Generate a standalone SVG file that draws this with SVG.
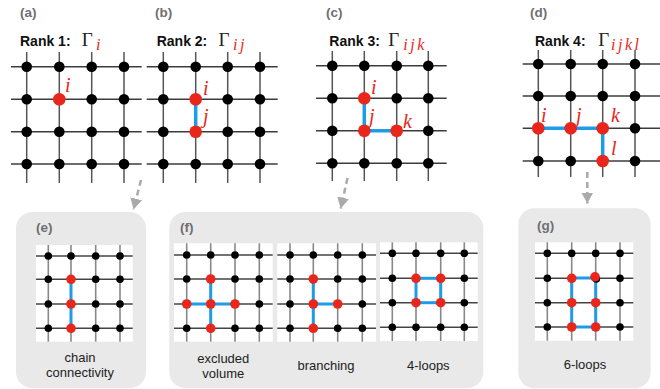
<svg xmlns="http://www.w3.org/2000/svg" width="660" height="389" viewBox="0 0 660 389">
<style>
.lab{font-family:"Liberation Sans",Arial,sans-serif;font-weight:bold;font-size:13.5px;fill:#707070}
.rank{font-family:"Liberation Sans",Arial,sans-serif;font-weight:bold;font-size:14px;fill:#111}
.gam{font-family:"Liberation Serif","DejaVu Serif",serif;font-size:19px;fill:#222}
.sub{font-family:"Liberation Serif","DejaVu Serif",serif;font-style:italic;font-size:16px;fill:#e8261b;letter-spacing:2.5px}
.nl{font-family:"Liberation Serif","DejaVu Serif",serif;font-style:italic;font-size:20px;fill:#e8261b}
.cap{font-family:"Liberation Sans",Arial,sans-serif;font-size:13px;fill:#222;text-anchor:middle}
.gh{stroke:#3c3c3c;stroke-width:1.5}
.gv{stroke:#555;stroke-width:1.5}
.sh{stroke:#444;stroke-width:1.4}
.sv{stroke:#888;stroke-width:1.6}
.bd{fill:#000}
.rd{fill:#e8261b}
.bl{stroke:#1e9be9;stroke-width:3.5;fill:none}
.sbl{stroke:#1e9be9;stroke-width:3;fill:none}
.box{fill:#e9e9e9}
.wh{fill:#fff}
.arr{stroke:#aaaaaa;stroke-width:2.5;stroke-dasharray:6 4;fill:none}
</style>
<defs>
<marker id="ah" markerUnits="userSpaceOnUse" markerWidth="14" markerHeight="14" refX="11" refY="6" orient="auto">
<path d="M0,0 L11,6 L0,12 Z" fill="#aaaaaa"/>
</marker>
</defs>

<g id="panel-a">
<text class="lab" x="20" y="17">(a)</text>
<text class="rank" x="20" y="45.5">Rank 1:</text>
<text class="gam" x="81.7" y="45.5">Γ</text>
<text class="sub" x="96" y="50">i</text>
<g class="gh">
<line x1="11" y1="66.7" x2="141.7" y2="66.7"/><line x1="11" y1="99.3" x2="141.7" y2="99.3"/><line x1="11" y1="131.7" x2="141.7" y2="131.7"/><line x1="11" y1="164" x2="141.7" y2="164"/>
</g>
<g class="gv">
<line x1="26.7" y1="52" x2="26.7" y2="183"/><line x1="59.3" y1="52" x2="59.3" y2="183"/><line x1="91.7" y1="52" x2="91.7" y2="183"/><line x1="124" y1="52" x2="124" y2="183"/>
</g>
<g class="bd">
<circle cx="26.7" cy="66.7" r="5.3"/><circle cx="59.3" cy="66.7" r="5.3"/><circle cx="91.7" cy="66.7" r="5.3"/><circle cx="124" cy="66.7" r="5.3"/>
<circle cx="26.7" cy="99.3" r="5.3"/><circle cx="91.7" cy="99.3" r="5.3"/><circle cx="124" cy="99.3" r="5.3"/>
<circle cx="26.7" cy="131.7" r="5.3"/><circle cx="59.3" cy="131.7" r="5.3"/><circle cx="91.7" cy="131.7" r="5.3"/><circle cx="124" cy="131.7" r="5.3"/>
<circle cx="26.7" cy="164" r="5.3"/><circle cx="59.3" cy="164" r="5.3"/><circle cx="91.7" cy="164" r="5.3"/><circle cx="124" cy="164" r="5.3"/>
</g>
<circle class="rd" cx="59.3" cy="99.3" r="6.3"/>
<text class="nl" x="65" y="92">i</text>
</g>

<g id="panel-b">
<text class="lab" x="155" y="17">(b)</text>
<text class="rank" x="156.7" y="45.5">Rank 2:</text>
<text class="gam" x="218.4" y="45.5">Γ</text>
<text class="sub" x="233" y="50">ij</text>
<g class="gh">
<line x1="146.7" y1="66.7" x2="277.7" y2="66.7"/><line x1="146.7" y1="99.3" x2="277.7" y2="99.3"/><line x1="146.7" y1="131.7" x2="277.7" y2="131.7"/><line x1="146.7" y1="164" x2="277.7" y2="164"/>
</g>
<g class="gv">
<line x1="163.3" y1="52" x2="163.3" y2="183"/><line x1="195.7" y1="52" x2="195.7" y2="183"/><line x1="227.7" y1="52" x2="227.7" y2="183"/><line x1="260" y1="52" x2="260" y2="183"/>
</g>
<line class="bl" x1="195.7" y1="99.3" x2="195.7" y2="131.7"/>
<g class="bd">
<circle cx="163.3" cy="66.7" r="5.3"/><circle cx="195.7" cy="66.7" r="5.3"/><circle cx="227.7" cy="66.7" r="5.3"/><circle cx="260" cy="66.7" r="5.3"/>
<circle cx="163.3" cy="99.3" r="5.3"/><circle cx="227.7" cy="99.3" r="5.3"/><circle cx="260" cy="99.3" r="5.3"/>
<circle cx="163.3" cy="131.7" r="5.3"/><circle cx="227.7" cy="131.7" r="5.3"/><circle cx="260" cy="131.7" r="5.3"/>
<circle cx="163.3" cy="164" r="5.3"/><circle cx="195.7" cy="164" r="5.3"/><circle cx="227.7" cy="164" r="5.3"/><circle cx="260" cy="164" r="5.3"/>
</g>
<circle class="rd" cx="195.7" cy="99.3" r="6.3"/><circle class="rd" cx="195.7" cy="131.7" r="6.3"/>
<text class="nl" x="203" y="95">i</text>
<text class="nl" x="203" y="123">j</text>
</g>

<g id="panel-c">
<text class="lab" x="326" y="17">(c)</text>
<text class="rank" x="329.3" y="45.5">Rank 3:</text>
<text class="gam" x="388.3" y="45.5">Γ</text>
<text class="sub" x="403.3" y="50">ijk</text>
<g class="gh">
<line x1="316" y1="65.7" x2="446.7" y2="65.7"/><line x1="316" y1="98.3" x2="446.7" y2="98.3"/><line x1="316" y1="130.7" x2="446.7" y2="130.7"/><line x1="316" y1="163.3" x2="446.7" y2="163.3"/>
</g>
<g class="gv">
<line x1="332.3" y1="51" x2="332.3" y2="181"/><line x1="364.3" y1="51" x2="364.3" y2="181"/><line x1="396.7" y1="51" x2="396.7" y2="181"/><line x1="428.3" y1="51" x2="428.3" y2="181"/>
</g>
<path class="bl" d="M364.3,98.3 L364.3,130.7 L396.7,130.7"/>
<g class="bd">
<circle cx="332.3" cy="65.7" r="5.3"/><circle cx="364.3" cy="65.7" r="5.3"/><circle cx="396.7" cy="65.7" r="5.3"/><circle cx="428.3" cy="65.7" r="5.3"/>
<circle cx="332.3" cy="98.3" r="5.3"/><circle cx="396.7" cy="98.3" r="5.3"/><circle cx="428.3" cy="98.3" r="5.3"/>
<circle cx="332.3" cy="130.7" r="5.3"/><circle cx="428.3" cy="130.7" r="5.3"/>
<circle cx="332.3" cy="163.3" r="5.3"/><circle cx="364.3" cy="163.3" r="5.3"/><circle cx="396.7" cy="163.3" r="5.3"/><circle cx="428.3" cy="163.3" r="5.3"/>
</g>
<circle class="rd" cx="364.3" cy="98.3" r="6.3"/><circle class="rd" cx="364.3" cy="130.7" r="6.3"/><circle class="rd" cx="396.7" cy="130.7" r="6.3"/>
<text class="nl" x="371" y="94">i</text>
<text class="nl" x="369" y="123">j</text>
<text class="nl" x="403" y="128">k</text>
</g>

<g id="panel-d">
<text class="lab" x="530" y="17">(d)</text>
<text class="rank" x="535" y="45.5">Rank 4:</text>
<text class="gam" x="598.3" y="45.5">Γ</text>
<text class="sub" x="611" y="50">ijkl</text>
<g class="gh">
<line x1="522.7" y1="64" x2="660" y2="64"/><line x1="522.7" y1="96" x2="660" y2="96"/><line x1="522.7" y1="128.3" x2="660" y2="128.3"/><line x1="522.7" y1="161" x2="660" y2="161"/>
</g>
<g class="gv">
<line x1="538.3" y1="50" x2="538.3" y2="177"/><line x1="570.7" y1="50" x2="570.7" y2="177"/><line x1="602.7" y1="50" x2="602.7" y2="177"/><line x1="635" y1="50" x2="635" y2="177"/>
</g>
<path class="bl" d="M538.3,128.3 L602.7,128.3 L602.7,161"/>
<g class="bd">
<circle cx="538.3" cy="64" r="5.3"/><circle cx="570.7" cy="64" r="5.3"/><circle cx="602.7" cy="64" r="5.3"/><circle cx="635" cy="64" r="5.3"/>
<circle cx="538.3" cy="96" r="5.3"/><circle cx="570.7" cy="96" r="5.3"/><circle cx="602.7" cy="96" r="5.3"/><circle cx="635" cy="96" r="5.3"/>
<circle cx="635" cy="128.3" r="5.3"/>
<circle cx="538.3" cy="161" r="5.3"/><circle cx="570.7" cy="161" r="5.3"/><circle cx="635" cy="161" r="5.3"/>
</g>
<circle class="rd" cx="538.3" cy="128.3" r="6.3"/><circle class="rd" cx="570.7" cy="128.3" r="6.3"/><circle class="rd" cx="602.7" cy="128.3" r="6.3"/><circle class="rd" cx="602.7" cy="161" r="6.3"/>
<text class="nl" x="541" y="121.7">i</text>
<text class="nl" x="576" y="121.7">j</text>
<text class="nl" x="611" y="121.7">k</text>
<text class="nl" x="611" y="155">l</text>
</g>

<g id="connectors">
<path class="arr" d="M141,180 L133.5,209.5" marker-end="url(#ah)"/>
<path class="arr" d="M347.5,178 L340.7,208.5" marker-end="url(#ah)"/>
<path class="arr" d="M587.3,172 L587.3,203.5" marker-end="url(#ah)"/>
</g>

<g id="panel-e">
<rect class="box" x="16" y="212" width="130" height="176" rx="16"/>
<text class="lab" x="36" y="231.7">(e)</text>
<rect class="wh" x="36" y="245" width="96.7" height="96.7"/>
<g class="sh">
<line x1="36" y1="256" x2="132.7" y2="256"/><line x1="36" y1="279.3" x2="132.7" y2="279.3"/><line x1="36" y1="304" x2="132.7" y2="304"/><line x1="36" y1="328.3" x2="132.7" y2="328.3"/>
</g>
<g class="sv">
<line x1="48.3" y1="245" x2="48.3" y2="341.7"/><line x1="71" y1="245" x2="71" y2="341.7"/><line x1="95.7" y1="245" x2="95.7" y2="341.7"/><line x1="120" y1="245" x2="120" y2="341.7"/>
</g>
<line class="sbl" x1="71" y1="279.3" x2="71" y2="328.3"/>
<g class="bd">
<circle cx="48.3" cy="256" r="3.8"/><circle cx="71" cy="256" r="3.8"/><circle cx="95.7" cy="256" r="3.8"/><circle cx="120" cy="256" r="3.8"/>
<circle cx="48.3" cy="279.3" r="3.8"/><circle cx="95.7" cy="279.3" r="3.8"/><circle cx="120" cy="279.3" r="3.8"/>
<circle cx="48.3" cy="304" r="3.8"/><circle cx="95.7" cy="304" r="3.8"/><circle cx="120" cy="304" r="3.8"/>
<circle cx="48.3" cy="328.3" r="3.8"/><circle cx="95.7" cy="328.3" r="3.8"/><circle cx="120" cy="328.3" r="3.8"/>
</g>
<g class="rd">
<circle cx="71" cy="279.3" r="4.8"/><circle cx="71" cy="304" r="4.8"/><circle cx="71" cy="328.3" r="4.8"/>
</g>
<text class="cap" x="80" y="361.7">chain</text>
<text class="cap" x="80" y="376.7">connectivity</text>
</g>

<g id="panel-f">
<rect class="box" x="169.3" y="212" width="314" height="176" rx="16"/>
<text class="lab" x="180" y="231.7">(f)</text>

<g id="f-excluded">
<rect class="wh" x="174" y="243.3" width="98.7" height="98.4"/>
<g class="sh">
<line x1="174" y1="255" x2="272.7" y2="255"/><line x1="174" y1="279" x2="272.7" y2="279"/><line x1="174" y1="304" x2="272.7" y2="304"/><line x1="174" y1="328.3" x2="272.7" y2="328.3"/>
</g>
<g class="sv">
<line x1="186.7" y1="243.3" x2="186.7" y2="341.7"/><line x1="210.7" y1="243.3" x2="210.7" y2="341.7"/><line x1="235" y1="243.3" x2="235" y2="341.7"/><line x1="259.3" y1="243.3" x2="259.3" y2="341.7"/>
</g>
<path class="sbl" d="M210.7,279 L210.7,328.3 M186.7,304 L235,304"/>
<g class="bd">
<circle cx="186.7" cy="255" r="3.8"/><circle cx="210.7" cy="255" r="3.8"/><circle cx="235" cy="255" r="3.8"/><circle cx="259.3" cy="255" r="3.8"/>
<circle cx="186.7" cy="279" r="3.8"/><circle cx="235" cy="279" r="3.8"/><circle cx="259.3" cy="279" r="3.8"/>
<circle cx="259.3" cy="304" r="3.8"/>
<circle cx="186.7" cy="328.3" r="3.8"/><circle cx="235" cy="328.3" r="3.8"/><circle cx="259.3" cy="328.3" r="3.8"/>
</g>
<g class="rd">
<circle cx="210.7" cy="279" r="4.8"/><circle cx="186.7" cy="304" r="4.8"/><circle cx="210.7" cy="304" r="4.8"/><circle cx="235" cy="304" r="4.8"/><circle cx="210.7" cy="328.3" r="4.8"/>
</g>
<text class="cap" x="223.3" y="363.3">excluded</text>
<text class="cap" x="223.3" y="378.3">volume</text>
</g>

<g id="f-branching">
<rect class="wh" x="277.3" y="243.3" width="98.7" height="98.4"/>
<g class="sh">
<line x1="277.3" y1="255" x2="376" y2="255"/><line x1="277.3" y1="279" x2="376" y2="279"/><line x1="277.3" y1="304" x2="376" y2="304"/><line x1="277.3" y1="328.3" x2="376" y2="328.3"/>
</g>
<g class="sv">
<line x1="290" y1="243.3" x2="290" y2="341.7"/><line x1="313.3" y1="243.3" x2="313.3" y2="341.7"/><line x1="337.7" y1="243.3" x2="337.7" y2="341.7"/><line x1="362.3" y1="243.3" x2="362.3" y2="341.7"/>
</g>
<path class="sbl" d="M313.3,279 L313.3,328.3 M313.3,304 L337.7,304"/>
<g class="bd">
<circle cx="290" cy="255" r="3.8"/><circle cx="313.3" cy="255" r="3.8"/><circle cx="337.7" cy="255" r="3.8"/><circle cx="362.3" cy="255" r="3.8"/>
<circle cx="290" cy="279" r="3.8"/><circle cx="337.7" cy="279" r="3.8"/><circle cx="362.3" cy="279" r="3.8"/>
<circle cx="290" cy="304" r="3.8"/><circle cx="362.3" cy="304" r="3.8"/>
<circle cx="290" cy="328.3" r="3.8"/><circle cx="337.7" cy="328.3" r="3.8"/><circle cx="362.3" cy="328.3" r="3.8"/>
</g>
<g class="rd">
<circle cx="313.3" cy="279" r="4.8"/><circle cx="313.3" cy="304" r="4.8"/><circle cx="337.7" cy="304" r="4.8"/><circle cx="313.3" cy="328.3" r="4.8"/>
</g>
<text class="cap" x="326" y="370">branching</text>
</g>

<g id="f-4loops">
<rect class="wh" x="380" y="242.3" width="97.7" height="98.7"/>
<g class="sh">
<line x1="380" y1="253.3" x2="477.7" y2="253.3"/><line x1="380" y1="278.3" x2="477.7" y2="278.3"/><line x1="380" y1="302.7" x2="477.7" y2="302.7"/><line x1="380" y1="327.3" x2="477.7" y2="327.3"/>
</g>
<g class="sv">
<line x1="392.3" y1="242.3" x2="392.3" y2="341"/><line x1="416" y1="242.3" x2="416" y2="341"/><line x1="440.7" y1="242.3" x2="440.7" y2="341"/><line x1="464.3" y1="242.3" x2="464.3" y2="341"/>
</g>
<rect class="sbl" x="416" y="278.3" width="24.7" height="24.4"/>
<g class="bd">
<circle cx="392.3" cy="253.3" r="3.8"/><circle cx="416" cy="253.3" r="3.8"/><circle cx="440.7" cy="253.3" r="3.8"/><circle cx="464.3" cy="253.3" r="3.8"/>
<circle cx="392.3" cy="278.3" r="3.8"/><circle cx="464.3" cy="278.3" r="3.8"/>
<circle cx="392.3" cy="302.7" r="3.8"/><circle cx="464.3" cy="302.7" r="3.8"/>
<circle cx="392.3" cy="327.3" r="3.8"/><circle cx="416" cy="327.3" r="3.8"/><circle cx="440.7" cy="327.3" r="3.8"/><circle cx="464.3" cy="327.3" r="3.8"/>
</g>
<g class="rd">
<circle cx="416" cy="278.3" r="4.8"/><circle cx="440.7" cy="278.3" r="4.8"/><circle cx="416" cy="302.7" r="4.8"/><circle cx="440.7" cy="302.7" r="4.8"/>
</g>
<text class="cap" x="428.3" y="370">4-loops</text>
</g>
</g>

<g id="panel-g">
<rect class="box" x="518.3" y="208.3" width="132.4" height="180" rx="16"/>
<text class="lab" x="537" y="230">(g)</text>
<rect class="wh" x="535" y="242.3" width="98.3" height="98.4"/>
<g class="sh">
<line x1="535" y1="253.3" x2="633.3" y2="253.3"/><line x1="535" y1="278.3" x2="633.3" y2="278.3"/><line x1="535" y1="302.7" x2="633.3" y2="302.7"/><line x1="535" y1="327" x2="633.3" y2="327"/>
</g>
<g class="sv">
<line x1="547.3" y1="242.3" x2="547.3" y2="340.7"/><line x1="571.7" y1="242.3" x2="571.7" y2="340.7"/><line x1="595.7" y1="242.3" x2="595.7" y2="340.7"/><line x1="620" y1="242.3" x2="620" y2="340.7"/>
</g>
<rect class="sbl" x="571.7" y="278" width="24" height="49"/>
<g class="bd">
<circle cx="547.3" cy="253.3" r="3.8"/><circle cx="571.7" cy="253.3" r="3.8"/><circle cx="595.7" cy="253.3" r="3.8"/><circle cx="620" cy="253.3" r="3.8"/>
<circle cx="547.3" cy="278.3" r="3.8"/><circle cx="596.3" cy="279" r="3.8"/><circle cx="620" cy="278.3" r="3.8"/>
<circle cx="547.3" cy="302.7" r="3.8"/><circle cx="620" cy="302.7" r="3.8"/>
<circle cx="547.3" cy="327" r="3.8"/><circle cx="620" cy="327" r="3.8"/>
</g>
<g class="rd">
<circle cx="571.7" cy="278.3" r="4.8"/><circle cx="595" cy="276.8" r="4.8"/><circle cx="571.7" cy="302.7" r="4.8"/><circle cx="595.7" cy="302.7" r="4.8"/><circle cx="571.7" cy="327" r="4.8"/><circle cx="595.7" cy="327" r="4.8"/>
</g>
<text class="cap" x="585" y="369.3">6-loops</text>
</g>
</svg>
